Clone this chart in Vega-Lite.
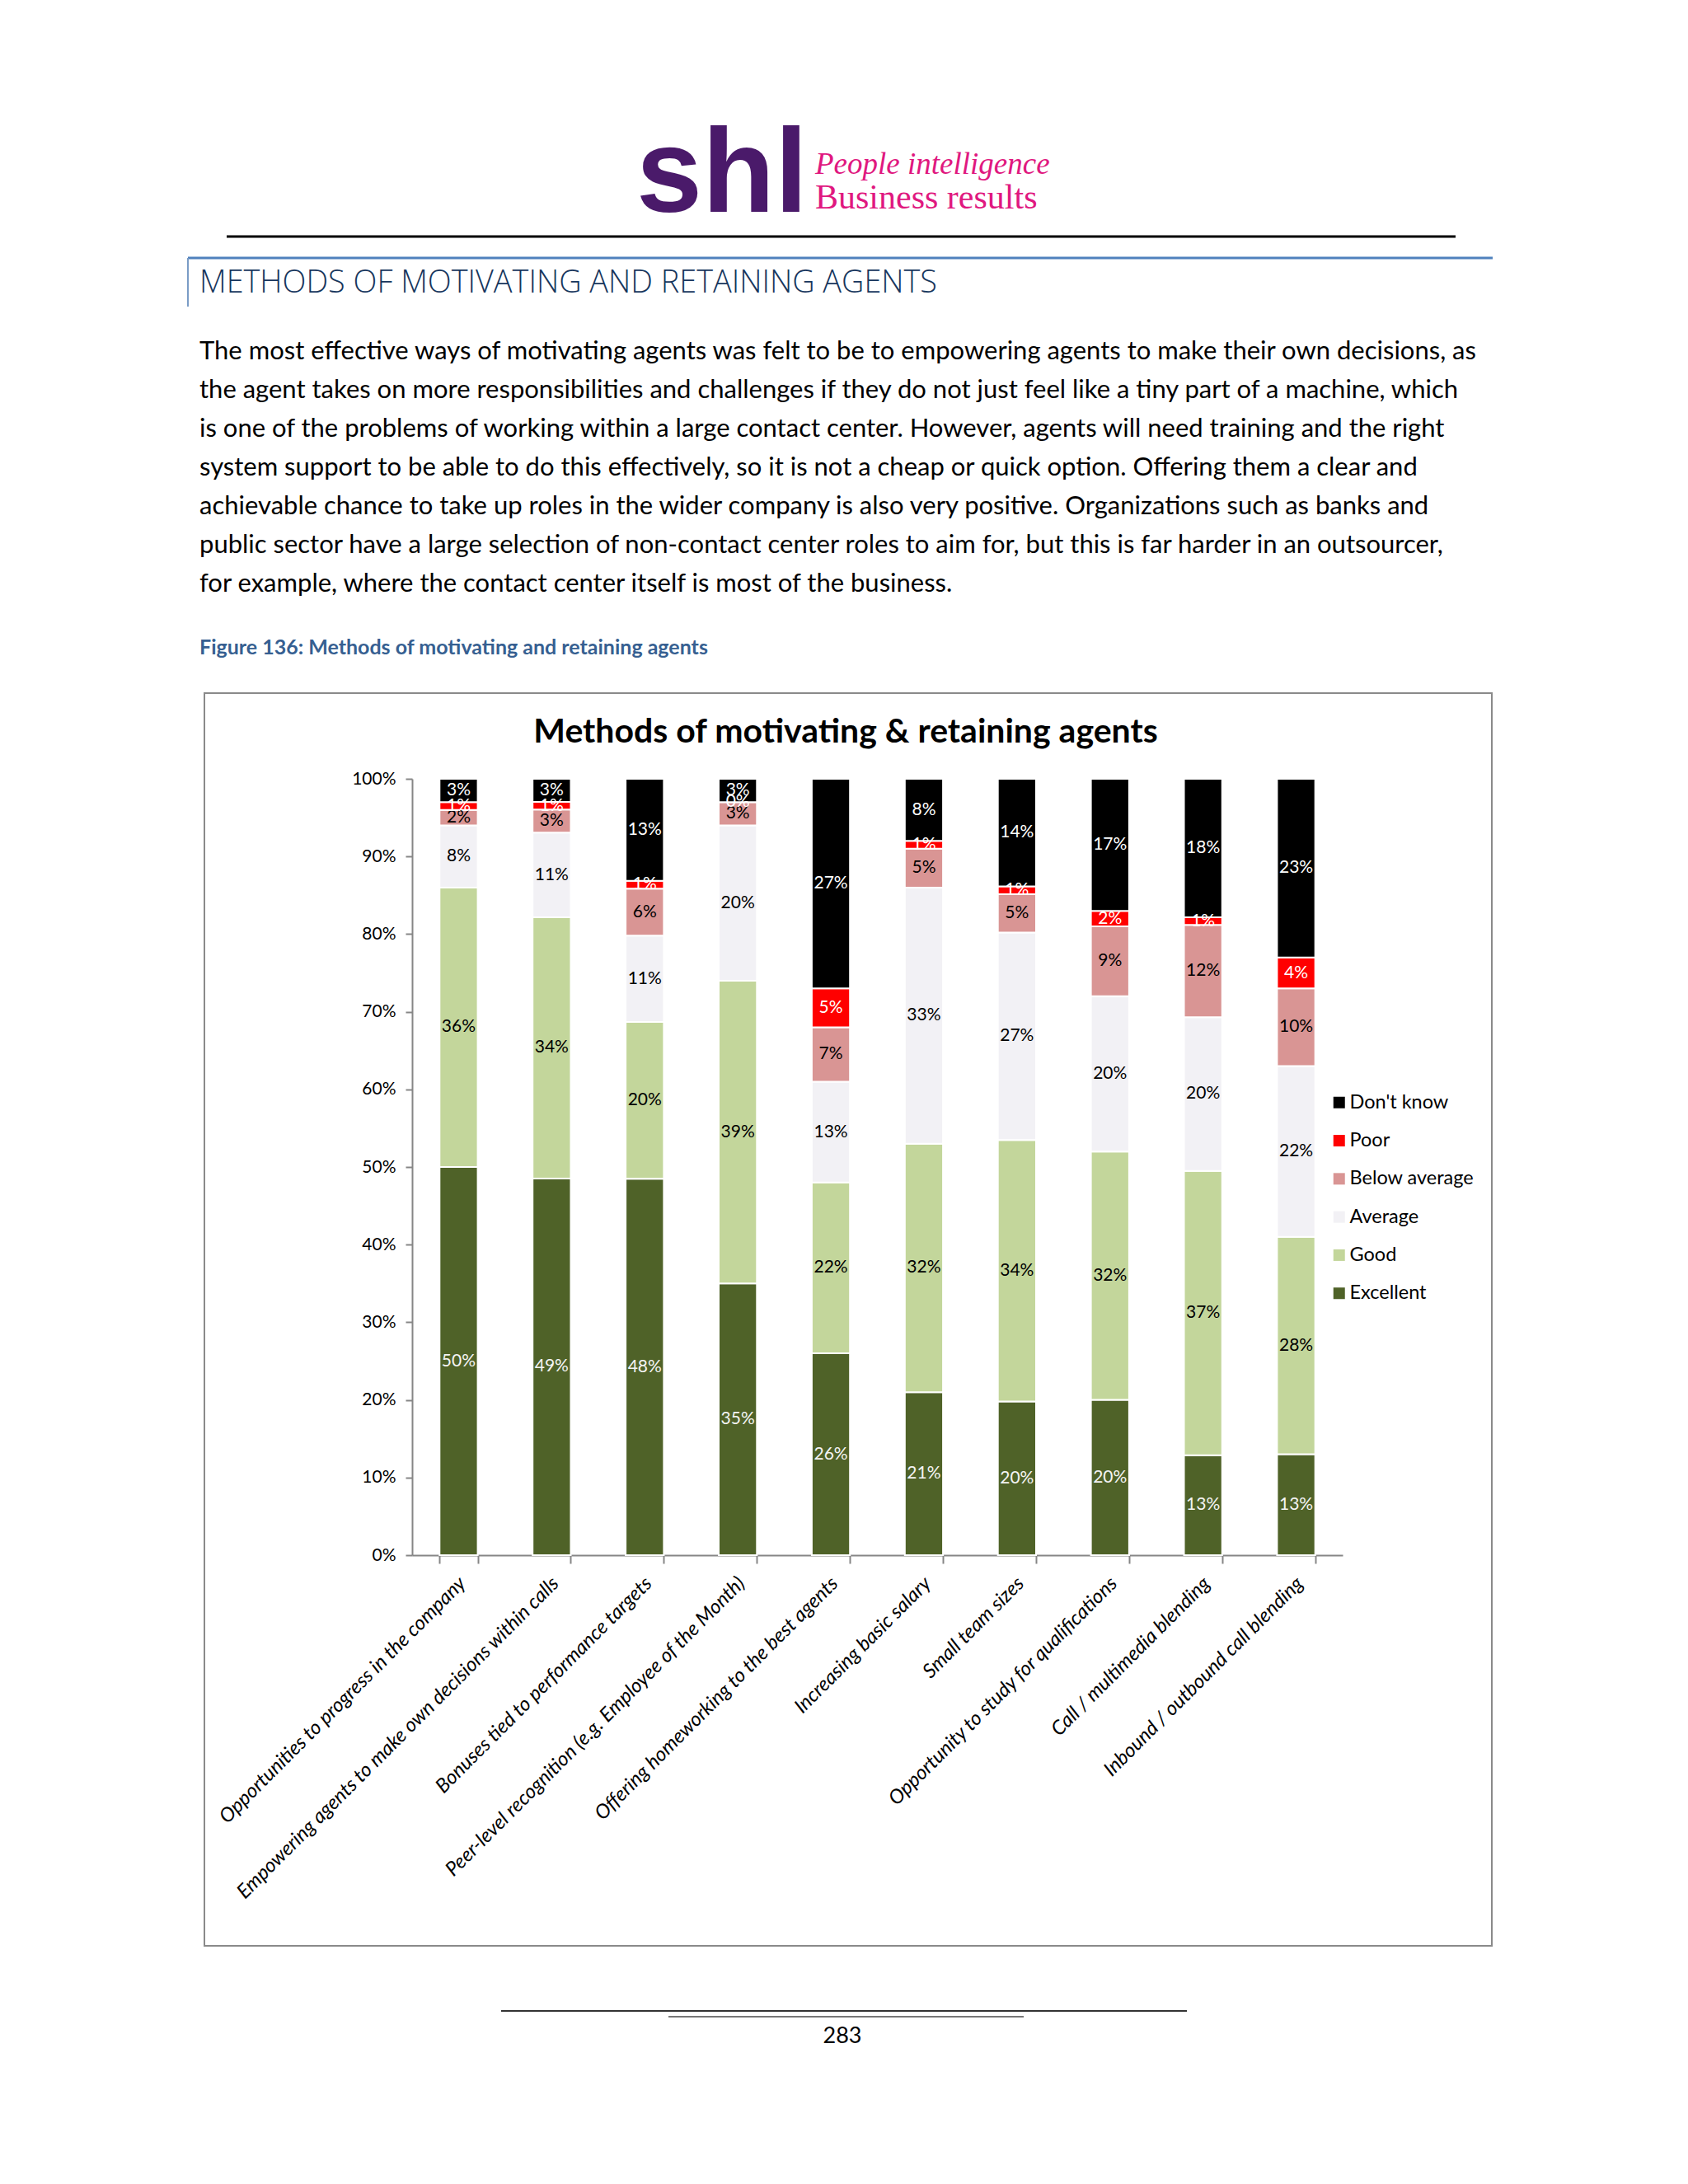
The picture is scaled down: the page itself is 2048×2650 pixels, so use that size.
{
  "$schema": "https://vega.github.io/schema/vega-lite/v6.json",
  "width": 1129,
  "height": 942,
  "autosize": {"type": "none"},
  "padding": {"left": 500, "top": 945, "right": 419, "bottom": 763},
  "background": "white",
  "config": {"view": {"stroke": null}},
  "datasets": {
    "ratingOrder": [
      {"rating": "Excellent", "rank": 1},
      {"rating": "Good", "rank": 2},
      {"rating": "Average", "rank": 3},
      {"rating": "Below average", "rank": 4},
      {"rating": "Poor", "rank": 5},
      {"rating": "Don't know", "rank": 6}
    ],
    "ratings": [
      {"method": "Opportunities to progress in the company", "rating": "Excellent", "share": 0.50},
      {"method": "Opportunities to progress in the company", "rating": "Good", "share": 0.36},
      {"method": "Opportunities to progress in the company", "rating": "Average", "share": 0.08},
      {"method": "Opportunities to progress in the company", "rating": "Below average", "share": 0.02},
      {"method": "Opportunities to progress in the company", "rating": "Poor", "share": 0.01},
      {"method": "Opportunities to progress in the company", "rating": "Don't know", "share": 0.03},
      {"method": "Empowering agents to make own decisions within calls", "rating": "Excellent", "share": 0.49},
      {"method": "Empowering agents to make own decisions within calls", "rating": "Good", "share": 0.34},
      {"method": "Empowering agents to make own decisions within calls", "rating": "Average", "share": 0.11},
      {"method": "Empowering agents to make own decisions within calls", "rating": "Below average", "share": 0.03},
      {"method": "Empowering agents to make own decisions within calls", "rating": "Poor", "share": 0.01},
      {"method": "Empowering agents to make own decisions within calls", "rating": "Don't know", "share": 0.03},
      {"method": "Bonuses tied to performance targets", "rating": "Excellent", "share": 0.48},
      {"method": "Bonuses tied to performance targets", "rating": "Good", "share": 0.20},
      {"method": "Bonuses tied to performance targets", "rating": "Average", "share": 0.11},
      {"method": "Bonuses tied to performance targets", "rating": "Below average", "share": 0.06},
      {"method": "Bonuses tied to performance targets", "rating": "Poor", "share": 0.01},
      {"method": "Bonuses tied to performance targets", "rating": "Don't know", "share": 0.13},
      {"method": "Peer-level recognition (e.g. Employee of the Month)", "rating": "Excellent", "share": 0.35},
      {"method": "Peer-level recognition (e.g. Employee of the Month)", "rating": "Good", "share": 0.39},
      {"method": "Peer-level recognition (e.g. Employee of the Month)", "rating": "Average", "share": 0.20},
      {"method": "Peer-level recognition (e.g. Employee of the Month)", "rating": "Below average", "share": 0.03},
      {"method": "Peer-level recognition (e.g. Employee of the Month)", "rating": "Poor", "share": 0.00},
      {"method": "Peer-level recognition (e.g. Employee of the Month)", "rating": "Don't know", "share": 0.03},
      {"method": "Offering homeworking to the best agents", "rating": "Excellent", "share": 0.26},
      {"method": "Offering homeworking to the best agents", "rating": "Good", "share": 0.22},
      {"method": "Offering homeworking to the best agents", "rating": "Average", "share": 0.13},
      {"method": "Offering homeworking to the best agents", "rating": "Below average", "share": 0.07},
      {"method": "Offering homeworking to the best agents", "rating": "Poor", "share": 0.05},
      {"method": "Offering homeworking to the best agents", "rating": "Don't know", "share": 0.27},
      {"method": "Increasing basic salary", "rating": "Excellent", "share": 0.21},
      {"method": "Increasing basic salary", "rating": "Good", "share": 0.32},
      {"method": "Increasing basic salary", "rating": "Average", "share": 0.33},
      {"method": "Increasing basic salary", "rating": "Below average", "share": 0.05},
      {"method": "Increasing basic salary", "rating": "Poor", "share": 0.01},
      {"method": "Increasing basic salary", "rating": "Don't know", "share": 0.08},
      {"method": "Small team sizes", "rating": "Excellent", "share": 0.20},
      {"method": "Small team sizes", "rating": "Good", "share": 0.34},
      {"method": "Small team sizes", "rating": "Average", "share": 0.27},
      {"method": "Small team sizes", "rating": "Below average", "share": 0.05},
      {"method": "Small team sizes", "rating": "Poor", "share": 0.01},
      {"method": "Small team sizes", "rating": "Don't know", "share": 0.14},
      {"method": "Opportunity to study for qualifications", "rating": "Excellent", "share": 0.20},
      {"method": "Opportunity to study for qualifications", "rating": "Good", "share": 0.32},
      {"method": "Opportunity to study for qualifications", "rating": "Average", "share": 0.20},
      {"method": "Opportunity to study for qualifications", "rating": "Below average", "share": 0.09},
      {"method": "Opportunity to study for qualifications", "rating": "Poor", "share": 0.02},
      {"method": "Opportunity to study for qualifications", "rating": "Don't know", "share": 0.17},
      {"method": "Call / multimedia blending", "rating": "Excellent", "share": 0.13},
      {"method": "Call / multimedia blending", "rating": "Good", "share": 0.37},
      {"method": "Call / multimedia blending", "rating": "Average", "share": 0.20},
      {"method": "Call / multimedia blending", "rating": "Below average", "share": 0.12},
      {"method": "Call / multimedia blending", "rating": "Poor", "share": 0.01},
      {"method": "Call / multimedia blending", "rating": "Don't know", "share": 0.18},
      {"method": "Inbound / outbound call blending", "rating": "Excellent", "share": 0.13},
      {"method": "Inbound / outbound call blending", "rating": "Good", "share": 0.28},
      {"method": "Inbound / outbound call blending", "rating": "Average", "share": 0.22},
      {"method": "Inbound / outbound call blending", "rating": "Below average", "share": 0.10},
      {"method": "Inbound / outbound call blending", "rating": "Poor", "share": 0.04},
      {"method": "Inbound / outbound call blending", "rating": "Don't know", "share": 0.23}
    ]
  },
  "layer": [
    {
      "data": {"values": [{}]},
      "mark": {"type": "rect", "x": -252, "x2": 1310, "y": -104, "y2": 1416, "fill": null, "fillOpacity": 0, "stroke": "#8a8a8a", "strokeWidth": 2}
    },
    {
      "data": {"values": [{}]},
      "mark": {"type": "text", "text": "shl", "x": 272, "y": -688, "align": "left", "baseline": "alphabetic", "font": "Liberation Sans", "fontWeight": "bold", "fontSize": 144, "fill": "#4a1a6a"}
    },
    {
      "data": {"values": [{}]},
      "mark": {"type": "text", "text": "People intelligence", "x": 489, "y": -734, "align": "left", "baseline": "alphabetic", "font": "Liberation Serif", "fontStyle": "italic", "fontSize": 37, "fill": "#e0187f"}
    },
    {
      "data": {"values": [{}]},
      "mark": {"type": "text", "text": "Business results", "x": 489, "y": -692, "align": "left", "baseline": "alphabetic", "font": "Liberation Serif", "fontSize": 42, "fill": "#e0187f"}
    },
    {
      "data": {"values": [{}]},
      "mark": {"type": "rule", "stroke": "#000000", "strokeWidth": 3},
      "encoding": {"x": {"value": -225}, "x2": {"value": 1266}, "y": {"value": -658}}
    },
    {
      "data": {"values": [{}]},
      "mark": {"type": "rule", "stroke": "#4f81bd", "strokeWidth": 3},
      "encoding": {"x": {"value": -272}, "x2": {"value": 1311}, "y": {"value": -632}}
    },
    {
      "data": {"values": [{}]},
      "mark": {"type": "rule", "stroke": "#7a9cc6", "strokeWidth": 2},
      "encoding": {"x": {"value": -272}, "y": {"value": -632}, "y2": {"value": -573}}
    },
    {
      "data": {"values": [{}]},
      "mark": {"type": "text", "text": "METHODS OF MOTIVATING AND RETAINING AGENTS", "x": -258, "y": -601, "align": "left", "baseline": "middle", "font": "Open Sans", "fontWeight": 300, "fontSize": 37.8, "fill": "#17365d"}
    },
    {
      "data": {"values": [{}]},
      "mark": {
        "type": "text",
        "text": [
          "The most effective ways of motivating agents was felt to be to empowering agents to make their own decisions, as",
          "the agent takes on more responsibilities and challenges if they do not just feel like a tiny part of a machine, which",
          "is one of the problems of working within a large contact center. However, agents will need training and the right",
          "system support to be able to do this effectively, so it is not a cheap or quick option. Offering them a clear and",
          "achievable chance to take up roles in the wider company is also very positive. Organizations such as banks and",
          "public sector have a large selection of non-contact center roles to aim for, but this is far harder in an outsourcer,",
          "for example, where the contact center itself is most of the business."
        ],
        "x": -258, "y": -518, "align": "left", "baseline": "middle", "lineHeight": 47,
        "font": "Lato", "fontSize": 31, "fill": "#000000"
      }
    },
    {
      "data": {"values": [{}]},
      "mark": {"type": "text", "text": "Figure 136: Methods of motivating and retaining agents", "x": -258, "y": -159, "align": "left", "baseline": "middle", "font": "Lato", "fontWeight": "bold", "fontSize": 25, "fill": "#365f91"}
    },
    {
      "data": {"values": [{}]},
      "mark": {"type": "text", "text": "Methods of motivating & retaining agents", "x": 526, "y": -56, "align": "center", "baseline": "middle", "font": "Lato", "fontWeight": "bold", "fontSize": 41, "fill": "#000000"}
    },
    {
      "data": {"values": [{}]},
      "mark": {"type": "rule", "stroke": "#333333", "strokeWidth": 2},
      "encoding": {"x": {"value": 108}, "x2": {"value": 940}, "y": {"value": 1495}}
    },
    {
      "data": {"values": [{}]},
      "mark": {"type": "rule", "stroke": "#777777", "strokeWidth": 2},
      "encoding": {"x": {"value": 311}, "x2": {"value": 742}, "y": {"value": 1502}}
    },
    {
      "data": {"values": [{}]},
      "mark": {"type": "text", "text": "283", "x": 522, "y": 1526, "align": "center", "baseline": "middle", "font": "Lato", "fontSize": 27, "fill": "#000000"}
    },
    {
      "data": {"name": "ratings"},
      "transform": [{"lookup": "rating", "from": {"data": {"name": "ratingOrder"}, "key": "rating", "fields": ["rank"]}}],
      "mark": {"type": "bar", "stroke": "white", "strokeWidth": 2},
      "encoding": {
        "x": {
          "field": "method", "type": "nominal", "sort": null,
          "scale": {"paddingInner": 0.59, "paddingOuter": 0.295},
          "axis": {
            "title": null, "labelAngle": -45, "labelFont": "Lato", "labelFontStyle": "italic", "labelFontSize": 24,
            "labelColor": "#000000", "labelLimit": 800, "tickBand": "extent", "tickSize": 10, "tickColor": "#868686",
            "tickWidth": 2, "domainColor": "#868686", "domainWidth": 2, "labelPadding": 12, "labelOffset": -4
          }
        },
        "y": {
          "field": "share", "type": "quantitative", "stack": "normalize",
          "scale": {"domain": [0, 1]},
          "axis": {
            "title": null, "format": ".0%", "values": [0, 0.1, 0.2, 0.3, 0.4, 0.5, 0.6, 0.7, 0.8, 0.9, 1],
            "grid": false, "labelFont": "Lato", "labelFontSize": 21, "labelColor": "#000000",
            "tickSize": 8, "tickColor": "#868686", "tickWidth": 2, "domainColor": "#868686", "domainWidth": 2, "labelPadding": 12
          }
        },
        "order": {"field": "rank", "type": "quantitative", "sort": "ascending"},
        "color": {
          "field": "rating", "type": "nominal",
          "sort": ["Don't know", "Poor", "Below average", "Average", "Good", "Excellent"],
          "scale": {
            "domain": ["Don't know", "Poor", "Below average", "Average", "Good", "Excellent"],
            "range": ["#000000", "#ff0000", "#d99594", "#f2f1f5", "#c3d69b", "#4f6228"]
          },
          "legend": {
            "title": null, "orient": "none", "legendX": 1113, "legendY": 381, "symbolType": "square", "symbolSize": 196,
            "symbolStrokeWidth": 0, "labelFont": "Lato", "labelFontSize": 23.5, "labelColor": "#000000", "rowPadding": 21.3, "labelOffset": 1
          }
        }
      }
    },
    {
      "data": {"name": "ratings"},
      "transform": [{"lookup": "rating", "from": {"data": {"name": "ratingOrder"}, "key": "rating", "fields": ["rank"]}}],
      "mark": {"type": "text", "font": "Lato", "fontSize": 21, "align": "center", "baseline": "middle"},
      "encoding": {
        "x": {"field": "method", "type": "nominal", "sort": null},
        "y": {"field": "share", "type": "quantitative", "stack": "normalize", "bandPosition": 0.5},
        "order": {"field": "rank", "type": "quantitative", "sort": "ascending"},
        "color": {
          "field": "rating", "type": "nominal",
          "sort": ["Don't know", "Poor", "Below average", "Average", "Good", "Excellent"],
          "scale": {
            "domain": ["Don't know", "Poor", "Below average", "Average", "Good", "Excellent"],
            "range": ["#ffffff", "#ffffff", "#000000", "#000000", "#000000", "#f4f4f4"]
          },
          "legend": null
        },
        "text": {"field": "share", "type": "quantitative", "format": ".0%"}
      }
    }
  ],
  "resolve": {"scale": {"color": "independent"}}
}
